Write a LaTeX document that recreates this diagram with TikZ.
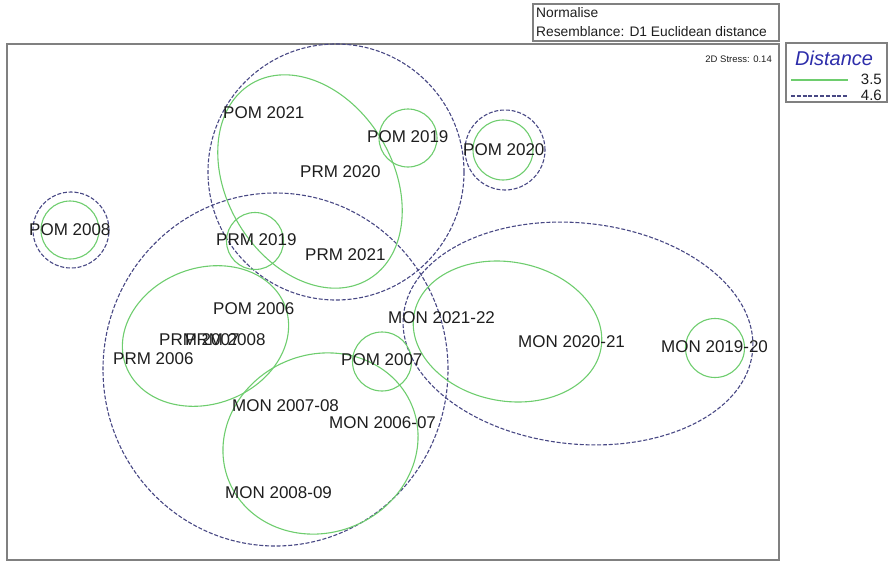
\documentclass[tikz,border=0pt]{standalone}
\usepackage{fontspec}
\setmainfont{Liberation Sans}
\definecolor{grn}{RGB}{110,205,110}
\definecolor{dsh}{RGB}{72,72,132}
\definecolor{frm}{RGB}{128,128,128}
\definecolor{txt}{RGB}{30,30,30}
\definecolor{blu}{RGB}{45,45,170}
\begin{document}
\begin{tikzpicture}[x=1pt,y=-1pt,
  grnline/.style={draw=grn,line width=1.1pt},
  dshline/.style={draw=dsh,line width=1.1pt,dash pattern=on 4pt off 1.8pt},
  lbl/.style={anchor=west,inner sep=0pt,text=txt,font=\fontsize{17}{17}\selectfont},
  boxtxt/.style={anchor=west,inner sep=0pt,text=txt,font=\fontsize{13.8}{13.8}\selectfont},
  framebox/.style={draw=frm,line width=1.4pt}]
\useasboundingbox (0,0) rectangle (889,562);
% frames
\draw[framebox] (7,44) rectangle (779,560);
\draw[framebox] (533,4) rectangle (779,41);
\draw[framebox] (786,43) rectangle (887,102);
\node[boxtxt] (norm) at (536,13) {Normalise};
\node[boxtxt] (res) at (536,31.5) {Resemblance: D1 Euclidean distance};
\node[anchor=east,inner sep=0pt,text=txt,font=\fontsize{9.5}{9.5}\selectfont] (stress) at (772,59) {2D Stress: 0.14};
% legend
\node[anchor=west,inner sep=0pt,text=blu,font=\fontsize{20}{20}\itshape\selectfont] (dist) at (795,58) {Distance};
\coordinate (g1) at (791,80);
\coordinate (g2) at (848,80);
\coordinate (d1) at (791,96);
\coordinate (d2) at (848,96);
\draw[grnline] (g1) -- (g2);
\draw[dshline] (d1) -- (d2);
\node[anchor=east,inner sep=0pt,text=txt,font=\fontsize{15}{15}\selectfont] (l35) at (882,79) {3.5};
\node[anchor=east,inner sep=0pt,text=txt,font=\fontsize{15}{15}\selectfont] (l46) at (882,95) {4.6};
% dashed groups
\draw[dshline] (336,172) circle [radius=128pt];
\draw[dshline] (275.5,369.5) ellipse [x radius=172.5pt, y radius=176.5pt];
\draw[dshline,rotate around={-6:(578,333.5)}] (578,333.5) ellipse [x radius=175.5pt, y radius=110.5pt];
\draw[dshline] (71,230) circle [radius=38pt];
\draw[dshline] (505,150) circle [radius=40pt];
% green groups
\draw[grnline,rotate around={-59:(310,181.5)}] (310,181.5) ellipse [x radius=114pt, y radius=83pt];
\draw[grnline,rotate around={20.5:(205.5,336)}] (205.5,336) ellipse [x radius=85pt, y radius=68pt];
\draw[grnline,rotate around={23:(320.5,443.5)}] (320.5,443.5) ellipse [x radius=99pt, y radius=89pt];
\draw[grnline,rotate around={-10.5:(507.5,331.5)}] (507.5,331.5) ellipse [x radius=95pt, y radius=69.5pt];
\draw[grnline] (70,230) circle [radius=29pt];
\draw[grnline] (503,150) circle [radius=30pt];
\draw[grnline] (408,138) circle [radius=29pt];
\draw[grnline] (255,241) circle [radius=28.5pt];
\draw[grnline] (382,361.5) circle [radius=29.5pt];
\draw[grnline] (715,348) circle [radius=29.5pt];
% labels
\node[lbl] (pom2021) at (223,113) {POM 2021};
\node[lbl] (pom2019) at (367,137) {POM 2019};
\node[lbl] (prm2020) at (300,172) {PRM 2020};
\node[lbl] (pom2020) at (463,150) {POM 2020};
\node[lbl] (pom2008) at (29,230) {POM 2008};
\node[lbl] (prm2019) at (216,240) {PRM 2019};
\node[lbl] (prm2021) at (305,255) {PRM 2021};
\node[lbl] (pom2006) at (213,309) {POM 2006};
\node[lbl] (prm2007) at (159,340) {PRM 2007};
\node[lbl] (prm2008) at (185,339.5) {PRM 2008};
\node[lbl] (prm2006) at (113,359) {PRM 2006};
\node[lbl] (mon2122) at (388,318) {MON 2021-22};
\node[lbl] (pom2007) at (341,360) {POM 2007};
\node[lbl] (mon2021) at (518,342) {MON 2020-21};
\node[lbl] (mon1920) at (661,347) {MON 2019-20};
\node[lbl] (mon0708) at (232,406) {MON 2007-08};
\node[lbl] (mon0607) at (329,423) {MON 2006-07};
\node[lbl] (mon0809) at (225,493) {MON 2008-09};
\end{tikzpicture}
\end{document}
